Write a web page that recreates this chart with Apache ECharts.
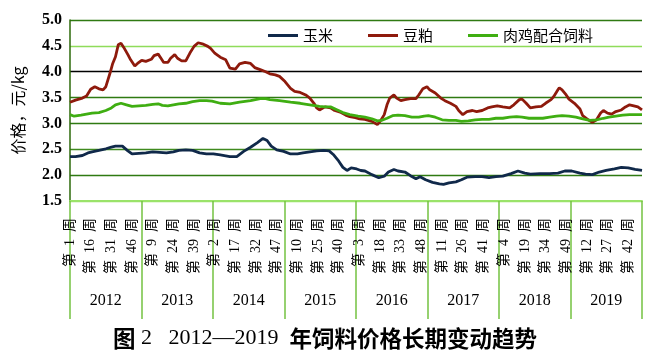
<!DOCTYPE html>
<html><head><meta charset="utf-8">
<script src="https://cdn.jsdelivr.net/npm/echarts@6/dist/echarts.min.js"></script>
<style>html,body{margin:0;padding:0;background:#fff}#c{width:650px;height:355px}</style>
</head><body><div id="c"></div>
<script>
const years = [2012, 2013, 2014, 2015, 2016, 2017, 2018, 2019];
const weeksPerYear = 52;
const seriesNames = ['玉米', '豆粕', '肉鸡配合饲料'];
const yTicks = [1.5, 2.0, 2.5, 3.0, 3.5, 4.0, 4.5, 5.0];
const yName = '价格，元/kg';

// [week index from 2012 week 1, price]
const cornPoints = [[0,2.36],[4,2.36],[9,2.38],[13,2.43],[16,2.45],[21,2.48],[26,2.51],[30,2.54],[33,2.56],[38,2.56],[42,2.47],[45,2.41],[50,2.42],[55,2.43],[60,2.45],[65,2.44],[70,2.43],[75,2.45],[79,2.48],[84,2.49],[89,2.48],[94,2.43],[99,2.41],[104,2.41],[109,2.39],[116,2.36],[121,2.36],[126,2.46],[131,2.54],[136,2.63],[140,2.71],[143,2.67],[146,2.56],[150,2.49],[155,2.46],[160,2.41],[165,2.41],[169,2.43],[174,2.45],[179,2.47],[184,2.48],[188,2.47],[191,2.40],[195,2.27],[198,2.15],[201,2.09],[204,2.14],[208,2.12],[211,2.09],[214,2.08],[219,2.01],[224,1.95],[228,1.98],[231,2.06],[235,2.11],[238,2.08],[243,2.06],[247,1.99],[251,1.93],[254,1.97],[258,1.91],[263,1.86],[268,1.83],[271,1.82],[275,1.85],[280,1.87],[284,1.91],[288,1.96],[294,1.97],[299,1.97],[304,1.95],[309,1.97],[314,1.98],[320,2.03],[325,2.08],[330,2.04],[334,2.02],[341,2.03],[348,2.03],[354,2.04],[359,2.08],[364,2.08],[370,2.04],[374,2.02],[379,2.01],[384,2.06],[389,2.09],[395,2.12],[400,2.15],[405,2.14],[410,2.11],[415,2.09]];
const soyPoints = [[0,3.41],[4,3.45],[9,3.49],[12,3.53],[15,3.66],[18,3.71],[21,3.67],[24,3.65],[26,3.71],[29,3.97],[31,4.16],[33,4.29],[35,4.52],[37,4.55],[39,4.47],[42,4.33],[44,4.23],[47,4.11],[49,4.16],[52,4.22],[55,4.20],[59,4.24],[61,4.31],[64,4.34],[66,4.26],[68,4.18],[71,4.18],[73,4.26],[76,4.33],[78,4.26],[81,4.21],[84,4.21],[87,4.36],[90,4.49],[93,4.56],[96,4.54],[100,4.49],[102,4.45],[105,4.36],[109,4.28],[113,4.23],[116,4.07],[120,4.05],[123,4.15],[127,4.18],[131,4.16],[134,4.08],[138,4.04],[142,4.00],[145,3.96],[149,3.94],[152,3.91],[156,3.81],[160,3.68],[163,3.62],[167,3.60],[171,3.55],[174,3.49],[177,3.39],[179,3.30],[181,3.26],[185,3.32],[189,3.30],[192,3.25],[196,3.22],[200,3.16],[203,3.13],[207,3.11],[210,3.09],[214,3.08],[219,3.04],[223,2.98],[225,3.04],[228,3.17],[230,3.36],[232,3.49],[235,3.55],[237,3.49],[240,3.44],[243,3.46],[247,3.48],[251,3.48],[253,3.55],[256,3.67],[259,3.71],[261,3.65],[265,3.59],[269,3.49],[272,3.44],[276,3.39],[280,3.33],[282,3.25],[285,3.17],[288,3.23],[292,3.25],[295,3.23],[299,3.25],[303,3.30],[306,3.32],[310,3.34],[314,3.32],[319,3.30],[322,3.36],[326,3.46],[328,3.47],[331,3.39],[334,3.30],[338,3.32],[342,3.33],[345,3.39],[349,3.46],[351,3.52],[354,3.65],[355,3.69],[357,3.65],[360,3.55],[362,3.47],[366,3.39],[370,3.28],[372,3.15],[376,3.07],[379,3.02],[382,3.07],[385,3.20],[387,3.25],[390,3.20],[393,3.18],[396,3.23],[400,3.26],[403,3.32],[406,3.36],[409,3.34],[412,3.32],[415,3.26]];
const broilerPoints = [[0,3.17],[3,3.14],[8,3.16],[12,3.18],[16,3.20],[21,3.21],[26,3.25],[30,3.30],[33,3.36],[37,3.39],[41,3.36],[45,3.33],[50,3.34],[55,3.35],[60,3.37],[64,3.38],[67,3.35],[71,3.34],[75,3.36],[79,3.38],[84,3.39],[89,3.42],[94,3.44],[99,3.44],[103,3.43],[109,3.39],[116,3.38],[123,3.41],[131,3.44],[138,3.48],[142,3.48],[145,3.46],[152,3.44],[160,3.41],[167,3.39],[174,3.36],[181,3.33],[185,3.32],[189,3.32],[194,3.26],[198,3.21],[203,3.17],[209,3.14],[214,3.12],[219,3.09],[223,3.05],[226,3.06],[230,3.10],[234,3.15],[238,3.16],[243,3.15],[248,3.12],[253,3.12],[257,3.14],[260,3.15],[265,3.12],[270,3.07],[275,3.06],[280,3.06],[284,3.04],[289,3.05],[294,3.07],[299,3.08],[304,3.08],[309,3.10],[314,3.10],[319,3.12],[324,3.13],[328,3.12],[333,3.10],[338,3.10],[343,3.10],[348,3.12],[353,3.14],[357,3.15],[362,3.14],[367,3.12],[372,3.09],[377,3.06],[382,3.07],[387,3.10],[391,3.12],[396,3.14],[401,3.16],[406,3.17],[411,3.17],[415,3.17]];

const weekCategories = [];
years.forEach(y => { for (let w = 1; w <= weeksPerYear; w++) weekCategories.push('第\u2002' + w + '\u2002周'); });

const serif = '"Liberation Serif","Noto Sans CJK SC",serif';
const cjk = '"Noto Sans CJK SC",sans-serif';
const colors = ['#10294a', '#8e1a0c', '#3fae12'];

const chart = echarts.init(document.getElementById('c'), null, {renderer: 'canvas'});
chart.setOption({
  animation: false,
  backgroundColor: '#fff',
  color: colors,
  title: {
    text: '{a|图}{b| 2   2012—2019  }{a|年饲料价格长期变动趋势}',
    left: 'center', top: 322,
    textStyle: {
      fontWeight: 'normal',
      rich: {
        a: {fontFamily: cjk, fontWeight: 'bold', fontSize: 22.5, color: '#000'},
        b: {fontFamily: serif, fontWeight: 'normal', fontSize: 22, color: '#000'}
      }
    }
  },
  legend: {
    data: seriesNames,
    left: 263, top: 23,
    icon: 'rect', itemWidth: 30, itemHeight: 3, itemGap: 35,
    textStyle: {fontFamily: cjk, fontSize: 15, color: '#000'}
  },
  grid: {left: 70, right: 8, top: 20, bottom: 154},
  xAxis: [{
    type: 'category', data: weekCategories, boundaryGap: false,
    axisLine: {lineStyle: {color: '#9be36a', width: 2}},
    axisTick: {show: false},
    splitLine: {show: false},
    axisLabel: {interval: 14, rotate: 90, margin: 17, fontSize: 14, fontFamily: serif, color: '#000'}
  }, {
    type: 'category', data: years.map(String), boundaryGap: true, position: 'bottom', offset: 0,
    axisLine: {show: false},
    axisTick: {show: true, length: 118, interval: 0, lineStyle: {color: '#74c242', width: 1.5}},
    splitLine: {show: false},
    axisLabel: {interval: 0, margin: 92, fontSize: 16, fontFamily: serif, color: '#000'}
  }],
  yAxis: {
    type: 'value', min: yTicks[0], max: yTicks[yTicks.length - 1], interval: 0.5,
    name: yName, nameLocation: 'middle', nameGap: 44, nameRotate: 90,
    nameTextStyle: {fontFamily: cjk, fontSize: 16, color: '#000'},
    axisLine: {show: true, lineStyle: {color: '#2d6a0a', width: 1.5}},
    axisTick: {show: false},
    axisLabel: {margin: 8, fontSize: 16, fontWeight: 'bold', fontFamily: serif, color: '#000', formatter: v => v.toFixed(1)},
    splitLine: {show: true, lineStyle: {width: 1.3, color: ['#9be36a', '#2f7a12', '#3f8a1e', '#2f7a12', '#2f7a12', '#000000', '#8fdc5a', '#2f7a12']}}
  },
  series: [
    {name: seriesNames[0], type: 'line', data: cornPoints, showSymbol: false, symbol: 'none', lineStyle: {width: 2.8, color: colors[0]}, itemStyle: {color: colors[0]}},
    {name: seriesNames[1], type: 'line', data: soyPoints, showSymbol: false, symbol: 'none', lineStyle: {width: 2.8, color: colors[1]}, itemStyle: {color: colors[1]}},
    {name: seriesNames[2], type: 'line', data: broilerPoints, showSymbol: false, symbol: 'none', lineStyle: {width: 2.8, color: colors[2]}, itemStyle: {color: colors[2]}}
  ]
});
</script></body></html>
